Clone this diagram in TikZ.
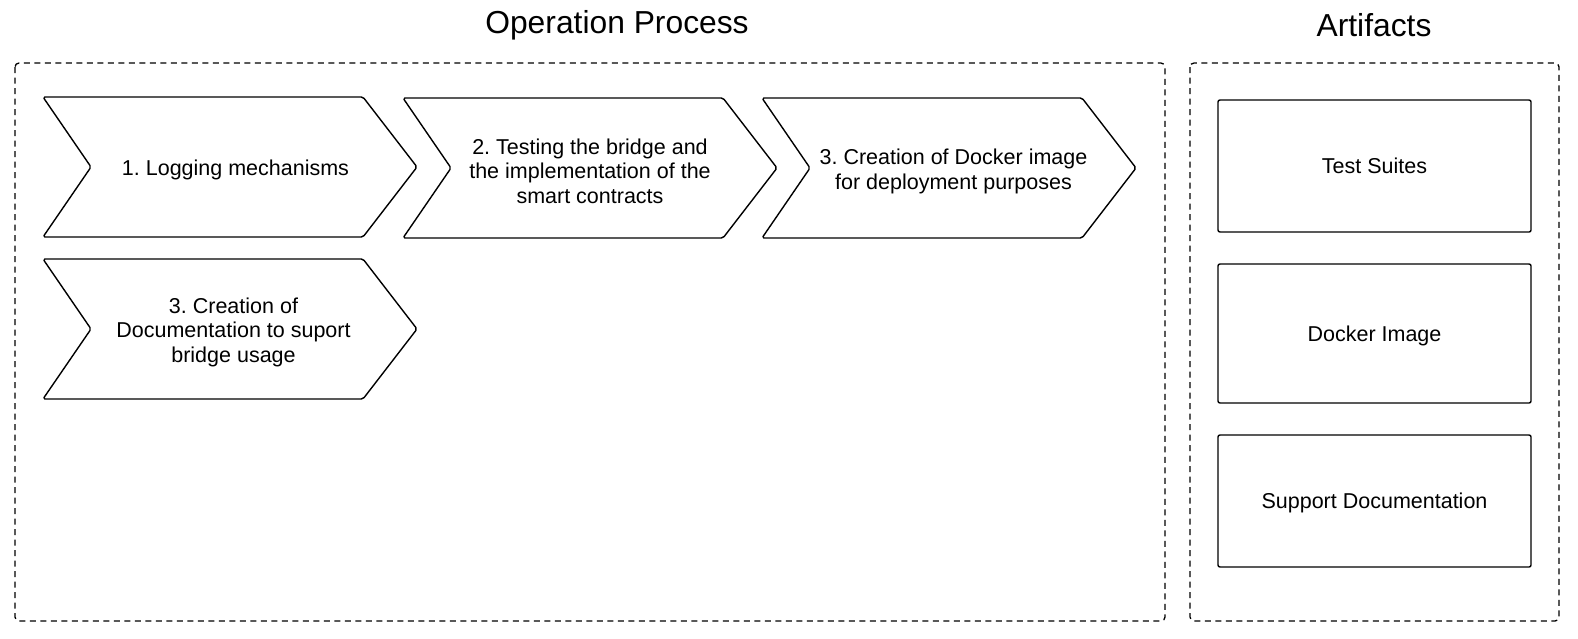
\documentclass[tikz,border=0pt]{standalone}
\usepackage{fontspec}
\setmainfont{Liberation Sans}
\usetikzlibrary{calc}
\begin{document}
\frenchspacing
\begin{tikzpicture}[x=1pt,y=-1pt,
  chevpath/.style={draw=black,line width=1.4pt,rounded corners=1.8pt,line join=round},
  chevtext/.style={align=center,font=\fontsize{21.5}{24.5}\selectfont,inner sep=0pt},
  artbox/.style={draw=black,line width=1.4pt,rounded corners=2pt,minimum width=313pt,align=center,text height=15pt,text depth=0pt,font=\fontsize{21.5}{24.5}\selectfont},
  group/.style={draw=black,line width=1.3pt,dash pattern=on 6pt off 4.5pt,rounded corners=4pt},
  title/.style={font=\fontsize{31.8}{36}\selectfont,inner sep=0pt}]
\useasboundingbox (0,0) rectangle (1578,638);
\fill[white] (0,0) rectangle (1578,638);
\newcommand\chevshape[6]{%
  \draw[chevpath] (#2,#3) -- ++(320,0) -- ++(54,70) -- ++(-54,70) -- ++(-320,0) -- ++(48,-70) -- cycle;
  \node[chevtext] (#1) at ($(#2,#3)+(#6,#5)$) {#4};}
% groups
\draw[group] (15,63) rectangle (1165,621);
\draw[group] (1190,63) rectangle (1559,621);
\node[title] (optitle) at (617,25) {Operation Process};
\node[title] (arttitle) at (1374,25) {Artifacts};
% chevrons
\chevshape{c1}{43}{97}{1. Logging mechanisms}{73}{192.5}
\chevshape{c2}{403}{98}{2. Testing the bridge and\\the implementation of the\\smart contracts}{73}{187}
\chevshape{c3}{762}{98}{3. Creation of Docker image\\for deployment purposes}{73.5}{191.5}
\chevshape{c4}{43}{259}{3. Creation of\\Documentation to suport\\bridge usage}{73}{190.5}
% artifacts
\node[artbox,minimum height=132pt] (a1) at (1374.5,166) {Test Suites};
\node[artbox,minimum height=139pt] (a2) at (1374.5,333.5) {Docker Image};
\node[artbox,minimum height=132pt] (a3) at (1374.5,501) {Support Documentation};
\end{tikzpicture}
\end{document}
